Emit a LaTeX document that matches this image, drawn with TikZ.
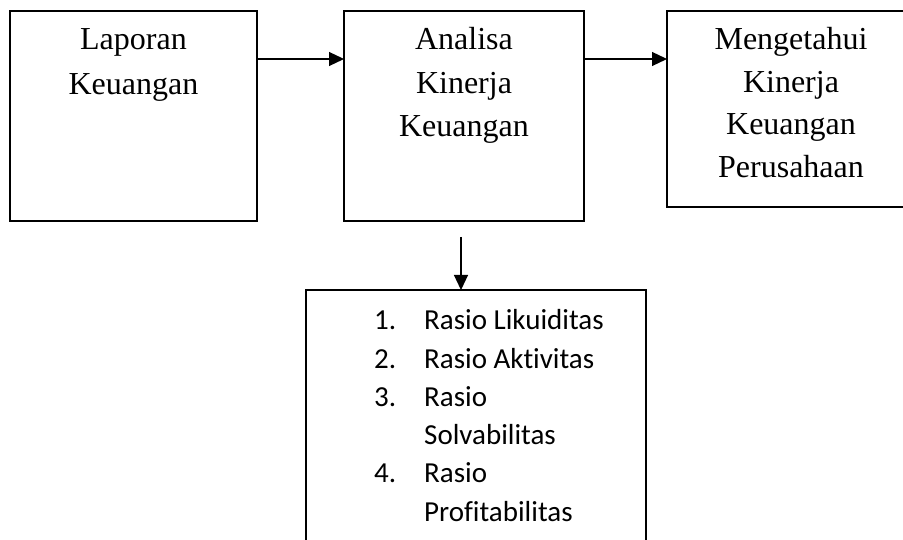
\documentclass[tikz,border=0pt]{standalone}
\usepackage{fontspec}
\setmainfont{Liberation Serif}
\newfontfamily\listfont[Ligatures=NoCommon]{Carlito}
\usetikzlibrary{arrows.meta}
\begin{document}
\begin{tikzpicture}[x=1pt,y=-1pt,
  box/.style={draw, line width=1.8pt, inner sep=0pt, outer sep=0pt, anchor=north west},
  arr/.style={line width=1.2pt, -{Triangle[length=15pt,width=14pt]}},
  ser/.style={font=\fontsize{32}{38}\selectfont, inner sep=0pt, anchor=base},
  lst/.style={font=\listfont\fontsize{29}{35}\selectfont, inner sep=0pt, anchor=base west}]
\useasboundingbox (0,0) rectangle (903,540);
\clip (0,0) rectangle (903,540);
% boxes
\node[box, minimum width=247pt, minimum height=210pt] (b1) at (10,11) {};
\node[box, minimum width=240pt, minimum height=210pt] (b2) at (344,11) {};
\node[box, minimum width=248pt, minimum height=196pt] (b3) at (667,11) {};
\node[box, minimum width=340pt, minimum height=270pt] (b4) at (306,290) {};
% box texts
\node[ser] (t11) at (133.5,50) {Laporan};
\node[ser] (t12) at (133.5,95) {Keuangan};
\node[ser] (t21) at (464,50) {Analisa};
\node[ser] (t22) at (464,93.5) {Kinerja};
\node[ser] (t23) at (464,137) {Keuangan};
\node[ser] (t31) at (791,50) {Mengetahui};
\node[ser] (t32) at (791,92.5) {Kinerja};
\node[ser] (t33) at (791,135) {Keuangan};
\node[ser] (t34) at (791,177.5) {Perusahaan};
% list
\node[lst] (n1) at (374,330) {1.};
\node[lst] (n2) at (374,368) {2.};
\node[lst] (n3) at (374,406) {3.};
\node[lst] (n4) at (374,482) {4.};
\node[lst] (l1) at (424,330) {Rasio Likuiditas};
\node[lst] (l2) at (424,368) {Rasio Aktivitas};
\node[lst] (l3) at (424,406) {Rasio};
\node[lst] (l4) at (424,444) {Solvabilitas};
\node[lst] (l5) at (424,482) {Rasio};
\node[lst] (l6) at (424,521) {Profitabilitas};
% connectors
\draw[arr] ([yshift=-48pt]b1.north east) -- ([yshift=-48pt]b2.north west);
\draw[arr] ([yshift=-48pt]b2.north east) -- ([yshift=-48pt]b3.north west);
\coordinate (d0) at (461,237);
\draw[arr] (d0) -- (d0 |- b4.north);
\end{tikzpicture}
\end{document}
